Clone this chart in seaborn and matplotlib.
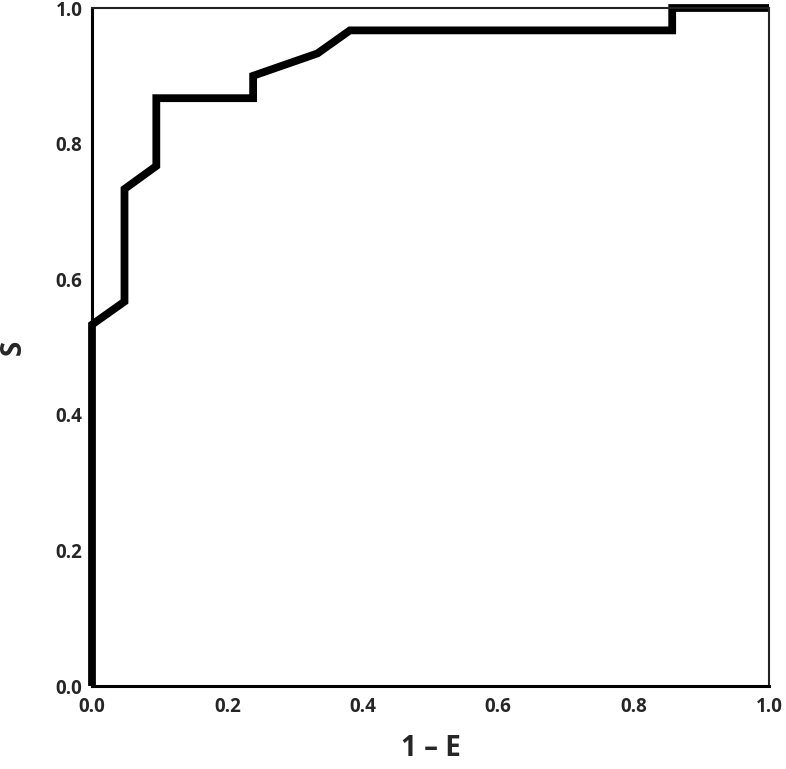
import pandas as pd
import matplotlib
matplotlib.use('Agg')
import matplotlib.pyplot as plt
import seaborn as sns

# ROC 曲线的点 (1 - E, S)
fpr = [0.0, 0.0, 0.048, 0.048, 0.095, 0.095, 0.238, 0.238, 0.333, 0.381, 0.857, 0.857, 1.0]
tpr = [0.0, 0.533, 0.567, 0.733, 0.767, 0.867, 0.867, 0.900, 0.933, 0.967, 0.967, 1.0, 1.0]
ticks = [0.0, 0.2, 0.4, 0.6, 0.8, 1.0]

sns.set_style('white')
plt.rcParams['font.family'] = ['Open Sans', 'DejaVu Sans']

fig = plt.figure(figsize=(7.86, 7.69), dpi=100)
ax = fig.add_axes([92 / 786, 1 - 686 / 769, 677 / 786, 678 / 769])

df = pd.DataFrame({'fpr': fpr, 'tpr': tpr})
sns.lineplot(data=df, x='fpr', y='tpr', sort=False, estimator=None,
             color='black', linewidth=5.6, ax=ax)
for line in ax.lines:
    line.set_clip_on(False)
    line.set_solid_joinstyle('miter')
    line.set_solid_capstyle('butt')

ax.set_xlim(0, 1)
ax.set_ylim(0, 1)
ax.set_xticks(ticks)
ax.set_yticks(ticks)
ax.set_xticklabels([f'{t:.1f}' for t in ticks], fontsize=13.5, fontweight='bold')
ax.set_yticklabels([f'{t:.1f}' for t in ticks], fontsize=13.5, fontweight='bold')
ax.tick_params(axis='x', length=0, pad=8)
ax.tick_params(axis='y', length=0, pad=7)

for side in ['top', 'right']:
    ax.spines[side].set_color('#222222')
    ax.spines[side].set_linewidth(1.5)
for side in ['left', 'bottom']:
    ax.spines[side].set_color('black')
    ax.spines[side].set_linewidth(2.2)

ax.set_xlabel('1 – E', fontsize=20, fontweight='bold', labelpad=12)
ax.set_ylabel('S', fontsize=20, fontweight='bold', labelpad=20)

plt.savefig('out.png', dpi=100)
